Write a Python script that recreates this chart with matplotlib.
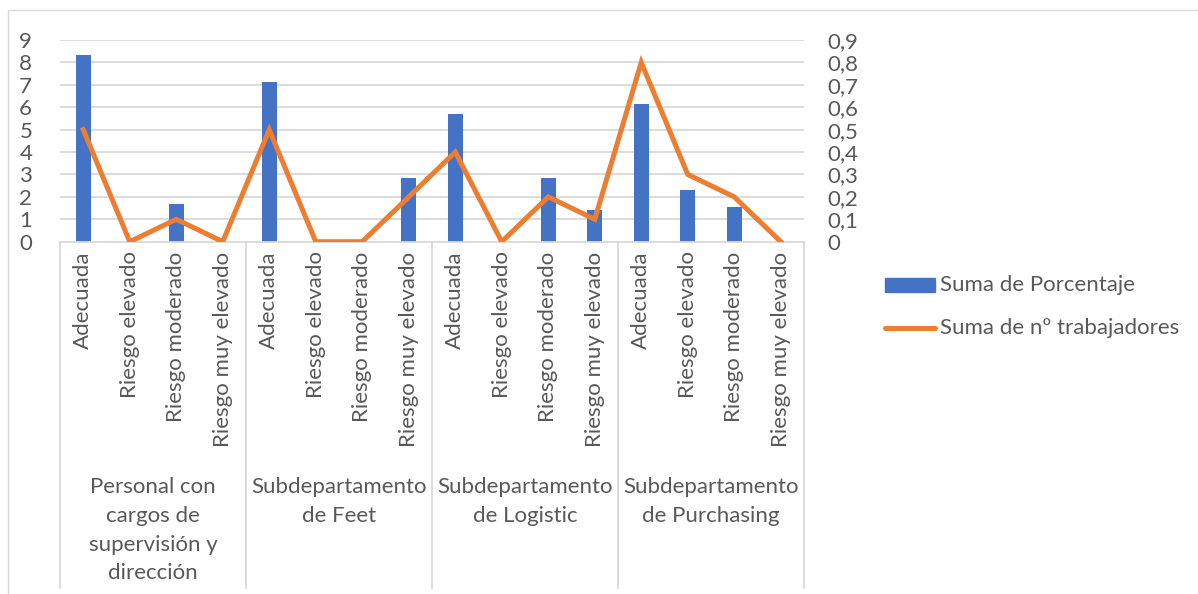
import matplotlib
matplotlib.use("Agg")
import matplotlib.pyplot as plt
from matplotlib.patches import Rectangle
from matplotlib.lines import Line2D
import matplotlib.transforms as mtransforms

plt.rcParams['font.family'] = ['Lato', 'DejaVu Sans']

groups = ["Personal con\ncargos de\nsupervisión y\ndirección",
          "Subdepartamento\nde Feet",
          "Subdepartamento\nde Logistic",
          "Subdepartamento\nde Purchasing"]
levels = ["Adecuada", "Riesgo elevado", "Riesgo moderado", "Riesgo muy elevado"]
porcentaje = [8.33, 0, 1.67, 0,
              7.14, 0, 0, 2.86,
              5.71, 0, 2.86, 1.43,
              6.15, 2.31, 1.54, 0]
trabajadores = [0.5, 0, 0.1, 0,
                0.5, 0, 0, 0.2,
                0.4, 0, 0.2, 0.1,
                0.8, 0.3, 0.2, 0]
left_ticks = list(range(0, 10))
right_ticks = [i / 10 for i in range(0, 10)]
right_labels = ["0"] + ["0,%d" % i for i in range(1, 10)]

BLUE = "#4472C4"
ORANGE = "#ED7D31"
TXT = "#595959"
GRID = "#D9D9D9"
FS = 16

W, H = 1198, 594
fig = plt.figure(figsize=(W / 100, H / 100), dpi=100)
fig.patches.append(Rectangle((8 / W, -0.1), 1.0, 1.1 - 10 / H, transform=fig.transFigure,
                             fill=False, edgecolor=GRID, linewidth=1.0))

x0, x1 = 60, 804
y_top, y_bot = 40, 241.7
ax = fig.add_axes([x0 / W, 1 - y_bot / H, (x1 - x0) / W, (y_bot - y_top) / H])
n = len(porcentaje)
labels = levels * len(groups)
xs = list(range(n))
ax.bar(xs, porcentaje, width=0.32, color=BLUE, zorder=2)
ax.set_xlim(-0.5, n - 0.5)
ax.set_ylim(0, 9)
ax.set_yticks(left_ticks)
ax.set_yticklabels([str(v) for v in left_ticks])
for v in left_ticks[1:]:
    ax.axhline(v, color=GRID, linewidth=1.3, zorder=0)
for s in ["top", "right", "left"]:
    ax.spines[s].set_visible(False)
ax.spines["bottom"].set_color(GRID)
ax.spines["bottom"].set_linewidth(1.3)
ax.tick_params(axis="y", length=0, labelsize=FS, labelcolor=TXT, pad=20)
ax.set_xticks(xs)
ax.set_xticklabels(labels, rotation=90, fontsize=FS, color=TXT, va="top", ha="center")
ax.tick_params(axis="x", length=0, pad=7)

ax2 = ax.twinx()
ax2.plot(xs, trabajadores, color=ORANGE, linewidth=3.6, solid_joinstyle="miter", zorder=3)
ax2.set_ylim(0, 0.9)
ax2.set_yticks(right_ticks)
ax2.set_yticklabels(right_labels)
for s in ["top", "right", "left", "bottom"]:
    ax2.spines[s].set_visible(False)
ax2.tick_params(axis="y", length=0, labelsize=FS, labelcolor=TXT, pad=17)

# group separators and labels
trans = mtransforms.blended_transform_factory(ax.transData, ax.transAxes)
bottom_frac = (y_bot - 588) / (y_bot - y_top)
for g in range(len(groups) + 1):
    xb = g * 4 - 0.5
    ax.add_line(Line2D([xb, xb], [0, bottom_frac], transform=trans, color=GRID,
                       linewidth=1.3, clip_on=False))
label_top = (y_bot - 477) / (y_bot - y_top)
for g, name in enumerate(groups):
    ax.text(g * 4 + 1.5, label_top, name, transform=trans, ha="center", va="top",
            fontsize=FS, color=TXT, linespacing=1.55, multialignment="center")

# legend
lx0, lx1 = 885 / W, 935 / W
fig.patches.append(Rectangle((lx0, 1 - 292 / H), lx1 - lx0, 14 / H, transform=fig.transFigure,
                             color=BLUE))
fig.text(940 / W, 1 - 285 / H, "Suma de Porcentaje", fontsize=FS, color=TXT, va="center")
fig.lines.append(Line2D([lx0, lx1], [1 - 328 / H, 1 - 328 / H], transform=fig.transFigure,
                        color=ORANGE, linewidth=3.6, solid_capstyle="round"))
fig.text(940 / W, 1 - 328 / H, "Suma de nº trabajadores", fontsize=FS, color=TXT, va="center")

fig.savefig("out.png", dpi=100)
